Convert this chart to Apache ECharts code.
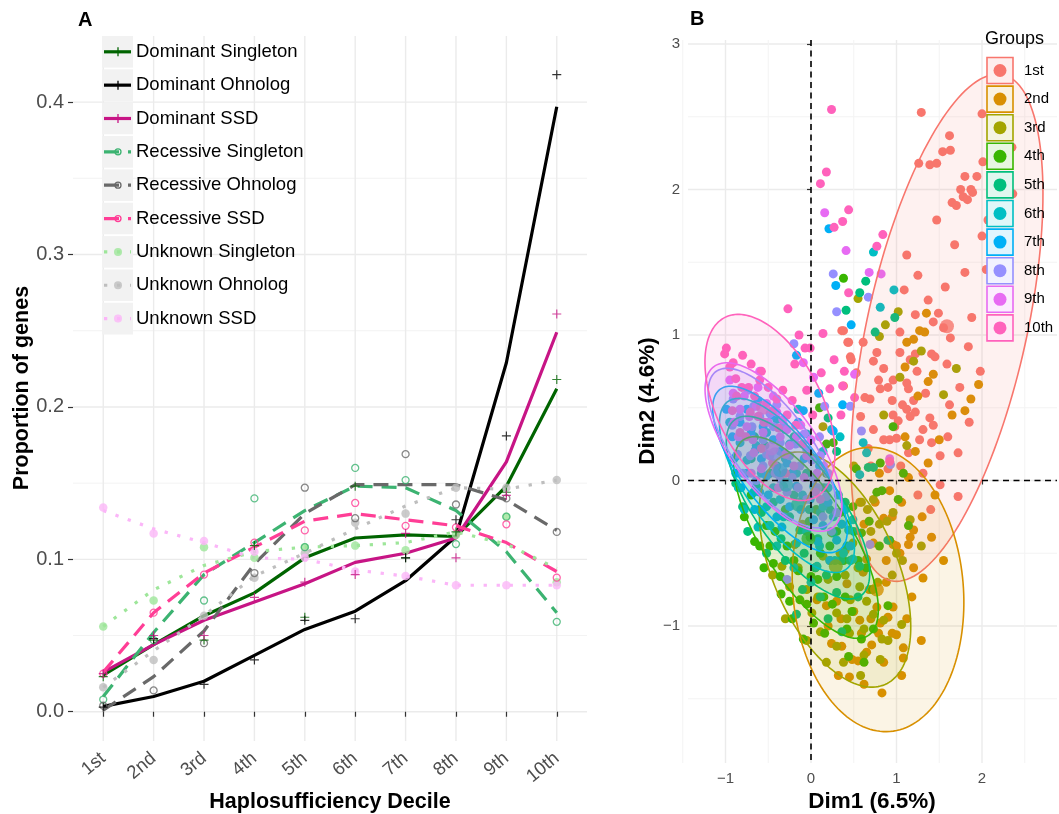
<!DOCTYPE html>
<html>
<head>
<meta charset="utf-8">
<script src="https://cdn.jsdelivr.net/npm/echarts@6/dist/echarts.min.js"></script>
<style>
html,body{margin:0;padding:0;background:#fff;}
#chart{width:1059px;height:814px;}
</style>
</head>
<body>
<div id="chart"></div>
<script>
// ---------- Panel A: proportion of genes per haplosufficiency decile ----------
const deciles = ['1st', '2nd', '3rd', '4th', '5th', '6th', '7th', '8th', '9th', '10th'];
const propTicks = [0, 0.1, 0.2, 0.3, 0.4];
const propMinor = [0.05, 0.15, 0.25, 0.35];

// fitted trend per decile
const domSingletonFit = [0.024, 0.044, 0.063, 0.078, 0.101, 0.114, 0.116, 0.115, 0.148, 0.212];
const domOhnologFit   = [0.0035, 0.010, 0.020, 0.037, 0.054, 0.066, 0.086, 0.115, 0.229, 0.397];
const domSSDFit       = [0.026, 0.044, 0.060, 0.072, 0.084, 0.098, 0.104, 0.114, 0.164, 0.249];
const recSingletonFit = [0.010, 0.052, 0.090, 0.111, 0.132, 0.148, 0.147, 0.132, 0.105, 0.065];
const recOhnologFit   = [0.001, 0.023, 0.053, 0.097, 0.130, 0.149, 0.149, 0.149, 0.139, 0.119];
const recSSDFit       = [0.026, 0.065, 0.091, 0.108, 0.125, 0.130, 0.126, 0.122, 0.111, 0.092];
const unkSingletonFit = [0.056, 0.080, 0.096, 0.105, 0.108, 0.109, 0.111, 0.118, 0.110, 0.094];
const unkOhnologFit   = [0.016, 0.040, 0.063, 0.089, 0.104, 0.120, 0.135, 0.147, 0.146, 0.152];
const unkSSDFit       = [0.132, 0.120, 0.111, 0.101, 0.100, 0.093, 0.089, 0.083, 0.083, 0.083];

// observed proportion per decile
const domSingletonObs = [0.023, 0.047, 0.047, 0.109, 0.062, 0.148, 0.101, 0.118, 0.144, 0.218];
const domOhnologObs   = [0.003, 0.048, 0.018, 0.034, 0.060, 0.061, 0.101, 0.126, 0.181, 0.418];
const domSSDObs       = [0.025, 0.050, 0.050, 0.075, 0.085, 0.090, 0.117, 0.101, 0.142, 0.261];
const recSingletonObs = [0.008, 0.047, 0.073, 0.140, 0.108, 0.160, 0.152, 0.110, 0.128, 0.059];
const recOhnologObs   = [0.004, 0.014, 0.045, 0.091, 0.147, 0.127, 0.169, 0.136, 0.140, 0.118];
const recSSDObs       = [0.025, 0.065, 0.090, 0.111, 0.119, 0.137, 0.122, 0.121, 0.123, 0.088];
const unkSingletonObs = [0.056, 0.073, 0.108, 0.101, 0.108, 0.109, 0.106, 0.116, 0.128, 0.085];
const unkOhnologObs   = [0.016, 0.034, 0.063, 0.088, 0.104, 0.124, 0.130, 0.147, 0.147, 0.152];
const unkSSDObs       = [0.134, 0.117, 0.112, 0.105, 0.101, 0.092, 0.089, 0.083, 0.083, 0.083];

// ---------- Panel B: first two dimensions, grouped by decile ----------
const groupNames = ['1st', '2nd', '3rd', '4th', '5th', '6th', '7th', '8th', '9th', '10th'];
const dimTicks = [-1, 0, 1, 2, 3];
const dimMinor = [-1.5, -0.5, 0.5, 1.5, 2.5];

const g1 = [[1.29,2.53],[2.0,2.52],[1.62,2.37],[2.35,2.29],[1.54,2.26],[1.63,2.27],[1.26,2.18],[1.39,2.17],[1.47,2.18],[2.01,2.19],[1.8,2.09],[1.94,2.09],[1.75,2.0],[1.87,2.0],[1.78,1.95],[1.83,1.93],[1.89,1.98],[2.36,1.97],[1.65,1.91],[1.70,1.89],[2.30,1.87],[2.07,1.79],[2.22,1.79],[1.47,1.79],[2.0,1.68],[1.25,1.41],[1.80,1.43],[1.09,1.31],[1.57,1.33],[1.37,1.24],[1.22,1.14],[1.49,1.15],[1.43,1.09],[1.04,1.02],[1.63,0.98],[1.84,0.92],[0.61,0.95],[0.43,0.95],[0.36,1.03],[2.13,1.20],[0.38,1.03],[0.44,0.95],[0.46,0.85],[0.47,0.83],[0.77,0.88],[0.73,0.82],[0.53,0.74],[0.38,0.65],[0.63,0.57],[0.69,0.56],[0.81,0.63],[0.90,0.64],[0.85,0.77],[0.96,0.69],[1.04,0.88],[1.16,0.83],[1.24,0.75],[1.22,0.87],[1.12,0.67],[1.14,0.63],[1.20,0.55],[0.96,0.45],[1.02,0.41],[0.98,0.37],[1.12,0.49],[1.16,0.44],[1.22,0.47],[1.31,0.35],[1.39,0.43],[1.43,0.38],[1.41,0.26],[1.14,0.19],[0.92,0.28],[1.0,0.29],[0.85,0.28],[0.73,0.35],[0.79,0.69],[1.51,0.17],[1.31,0.05],[1.72,0.19],[1.72,-0.11],[1.51,-0.03],[1.59,0.80],[1.74,0.64],[1.41,0.87],[1.45,0.85],[1.98,0.75],[0.90,0.08],[1.07,0.52],[0.58,0.44],[1.27,0.28],[1.62,0.52],[1.88,1.12],[2.05,1.45],[1.68,1.62],[1.12,1.55],[0.95,0.55],[0.67,0.22],[1.34,0.60],[1.55,1.05],[1.05,0.10],[1.25,-0.10],[1.60,0.30],[1.85,0.40],[0.70,0.10],[1.40,-0.20]];
const g2 = [[1.35,1.15],[1.12,0.95],[1.20,0.97],[1.27,1.03],[1.33,1.02],[1.96,0.66],[1.87,0.56],[1.80,0.48],[1.65,0.45],[1.43,0.73],[1.37,0.68],[1.37,0.12],[1.14,0.02],[0.92,-0.07],[1.06,-0.15],[1.20,-0.34],[1.16,-0.39],[1.14,-0.44],[1.0,-0.45],[1.04,-0.50],[1.41,-0.39],[1.55,-0.55],[1.31,-0.67],[1.29,-1.10],[1.0,-1.06],[0.96,-0.87],[1.08,-1.15],[1.08,-1.22],[1.06,-1.34],[0.83,-1.46],[0.32,-1.34],[0.24,-1.12],[0.36,-1.14],[0.48,-1.23],[0.55,-1.24],[0.65,-1.18],[0.71,-1.13],[0.59,-1.05],[0.77,-0.87],[0.90,-0.94],[0.81,-0.98],[0.79,-1.05],[0.57,-0.96],[0.57,-0.15],[0.75,-0.15],[0.85,-0.26],[0.96,-0.44],[0.30,-0.83],[0.18,-0.86],[0.07,-0.82],[0.42,-0.71],[0.61,-0.63],[0.73,-0.43],[0.65,-0.54],[1.25,0.58],[1.10,0.78],[1.50,0.28],[1.22,0.20],[0.68,-0.75],[0.50,-0.90],[0.88,-0.70],[1.18,-0.80],[0.40,-0.48],[0.95,-0.25],[0.20,-1.00],[0.35,-0.95],[0.45,-1.35],[0.62,-1.40],[0.70,-0.95],[0.85,-1.25],[0.95,-1.05],[1.12,-0.95],[1.20,-0.60],[1.30,-0.25],[0.88,-0.55],[0.62,-0.30],[1.45,-0.10],[1.10,0.30],[0.80,0.05]];
const g3 = [[0.55,1.25],[1.02,1.16],[0.87,1.07],[0.80,0.99],[1.04,0.71],[1.55,0.59],[1.20,0.82],[1.29,0.89],[1.12,0.24],[1.70,0.77],[0.59,-0.15],[0.73,-0.13],[0.89,-0.28],[0.96,-0.22],[1.16,-0.27],[1.29,-0.45],[1.07,-0.55],[1.06,-0.99],[0.83,-1.09],[0.81,-1.23],[0.58,-1.34],[0.30,-1.14],[0.11,-1.04],[0.30,-0.91],[0.73,-0.92],[0.65,-0.83],[0.46,-0.82],[-0.05,-0.75],[-0.25,-0.73],[0.14,-0.52],[0.34,-0.50],[0.49,-0.43],[0.57,-0.73],[0.85,-0.96],[0.01,-0.91],[-0.19,-0.44],[-0.34,-0.59],[0.24,-0.36],[0.14,0.37],[0.40,-0.65],[0.20,-0.68],[0.62,-1.02],[0.45,-1.05],[0.95,-0.65],[0.05,-0.60],[0.70,-0.35],[0.36,-0.30],[-0.10,-0.30],[0.50,0.10],[0.85,0.45],[-0.45,-0.65],[-0.30,-0.95],[-0.15,-0.60],[-0.05,-1.10],[0.08,-0.80],[0.18,-1.25],[0.22,-0.55],[0.38,-1.25],[0.42,-0.95],[0.55,-0.60],[0.62,-1.20],[0.78,-0.70],[0.90,-1.10],[1.00,-0.50],[0.66,-0.20],[0.80,-0.30]];
const g4 = [[0.38,1.39],[0.18,0.25],[0.26,0.26],[1.08,0.05],[0.96,0.37],[0.77,-0.08],[0.83,-0.07],[1.02,-0.13],[1.14,-0.31],[0.92,-0.41],[0.34,-0.22],[0.49,-0.18],[0.59,-0.36],[-0.01,-0.39],[0.11,-0.50],[0.30,-0.66],[0.0,-0.66],[-0.13,-0.82],[-0.25,-0.83],[-0.36,-0.66],[-0.48,-0.45],[-0.52,-0.31],[0.03,-0.98],[0.44,-1.21],[0.59,-1.09],[-0.09,-1.09],[0.90,-0.86],[0.73,-1.02],[0.42,-1.02],[-0.60,-0.45],[-0.44,-0.57],[0.18,0.05],[0.81,0.12],[0.53,0.08],[-0.30,-0.20],[0.06,-0.20],[0.22,-0.45],[0.40,-0.80],[-0.20,-0.55],[0.65,-0.60],[0.15,-0.80],[-0.70,-0.10],[0.10,0.50],[-0.40,0.05],[-0.78,-0.25],[-0.66,-0.42],[-0.60,-0.20],[-0.55,-0.60],[-0.42,-0.35],[-0.35,-0.78],[-0.28,-0.45],[-0.22,-0.95],[-0.15,-0.62],[-0.05,-0.85],[-0.02,-0.28],[0.08,-0.68],[0.16,-1.05],[0.25,-0.85],[0.30,-0.35],[0.38,-0.55],[0.48,-0.90],[0.55,-0.55],[0.62,-1.25],[0.72,-0.75],[0.80,-0.45],[0.68,-0.28]];
const g5 = [[0.64,1.37],[0.57,1.29],[0.41,1.17],[0.98,1.12],[0.75,1.02],[0.20,0.43],[0.73,0.09],[0.67,0.09],[0.90,-0.41],[0.46,-0.55],[-0.32,-0.04],[-0.48,0.05],[-0.25,-0.25],[-0.13,-0.34],[0.11,-0.22],[0.26,-0.36],[0.42,-0.45],[0.57,-0.59],[0.11,-0.80],[-0.17,-0.92],[0.36,-1.04],[0.30,-0.77],[-0.64,-0.04],[-0.54,0.24],[-0.40,0.10],[-0.05,0.05],[0.15,-0.05],[-0.35,-0.40],[0.05,-0.60],[-0.70,0.15],[0.30,0.20],[-0.20,0.30],[-0.88,-0.02],[-0.80,-0.18],[-0.74,-0.35],[-0.66,0.30],[-0.58,-0.22],[-0.52,-0.50],[-0.44,-0.15],[-0.30,-0.55],[-0.20,-0.10],[-0.08,-0.50],[-0.02,-0.20],[0.08,-0.40],[0.18,-0.65],[0.22,-0.20],[0.35,-0.55],[0.40,-0.15],[0.50,-0.35],[0.55,-0.80],[-0.10,-0.75],[0.20,-0.95]];
const g6 = [[0.73,1.57],[0.97,1.31],[0.81,1.19],[0.61,0.26],[0.65,0.19],[0.24,0.35],[0.34,0.30],[0.57,0.04],[-0.36,-0.13],[-0.52,-0.18],[-0.17,0.05],[0.03,-0.04],[0.14,-0.18],[0.26,-0.25],[0.49,-0.27],[0.44,-0.34],[0.38,-0.50],[0.49,-0.54],[0.07,-0.59],[-0.17,-0.43],[-0.48,-0.31],[-0.67,-0.08],[-0.75,0.14],[-0.64,0.24],[-0.83,0.26],[-0.52,0.33],[0.14,0.20],[-0.40,0.42],[-0.15,0.49],[-0.95,0.40],[-0.05,0.32],[-0.30,0.15],[-0.90,0.15],[-0.85,-0.05],[-0.78,-0.20],[-0.70,0.35],[-0.62,-0.32],[-0.58,0.05],[-0.44,-0.05],[-0.40,-0.45],[-0.32,-0.25],[-0.25,0.25],[-0.10,-0.10],[-0.05,-0.35],[0.05,0.15],[0.10,-0.45],[0.20,-0.05],[0.28,-0.55],[0.32,-0.10],[0.40,-0.20],[-0.20,-0.60],[0.00,-0.70]];
const g7 = [[0.21,1.73],[0.29,1.34],[0.47,1.07],[-0.17,0.86],[0.09,0.60],[0.37,0.52],[-0.09,0.48],[0.26,0.34],[-0.83,0.40],[-0.75,0.49],[-0.65,0.21],[-0.52,0.03],[-0.28,0.12],[-0.17,-0.04],[-0.01,-0.13],[0.14,-0.31],[0.30,-0.41],[0.46,-0.45],[0.03,-0.27],[-0.25,-0.18],[-0.60,-0.08],[-0.75,0.05],[-0.87,0.17],[-0.56,0.37],[-0.44,0.28],[-0.99,0.49],[-0.30,0.35],[0.10,0.10],[-0.40,-0.25],[-0.92,0.30],[-0.88,0.05],[-0.82,-0.05],[-0.70,0.32],[-0.66,-0.20],[-0.58,0.15],[-0.50,-0.10],[-0.46,0.45],[-0.36,0.20],[-0.34,-0.32],[-0.22,0.05],[-0.12,-0.20],[-0.08,0.15],[0.04,-0.05],[0.08,-0.42],[0.20,-0.15],[0.22,-0.55],[0.36,-0.30],[-0.62,0.55],[-0.15,0.40]];
const g8 = [[0.26,1.42],[0.67,1.26],[0.30,1.16],[-0.20,0.94],[0.46,0.51],[0.16,0.51],[0.59,0.34],[0.93,0.11],[0.69,-0.44],[-0.91,0.56],[-0.83,0.44],[-0.79,0.30],[-0.69,0.37],[-0.56,0.28],[-0.44,0.37],[-0.36,0.26],[-0.25,0.17],[-0.13,0.10],[0.01,0.14],[0.11,0.17],[0.03,0.01],[0.18,-0.11],[0.30,-0.22],[0.14,-0.25],[-0.05,-0.13],[-0.36,0.01],[-0.56,0.10],[-0.71,0.17],[-0.28,-0.68],[-0.67,0.51],[-0.05,0.21],[-0.92,0.38],[-0.86,0.18],[-0.80,0.05],[-0.74,0.62],[-0.64,0.00],[-0.60,0.44],[-0.52,0.18],[-0.48,0.46],[-0.42,0.05],[-0.32,0.38],[-0.28,-0.08],[-0.18,0.25],[-0.15,-0.05],[-0.08,0.32],[0.08,-0.05],[0.20,0.05],[0.24,-0.35],[-0.40,0.52],[-0.22,0.02],[0.10,0.30]];
const g9 = [[0.16,1.84],[0.41,1.58],[0.68,1.43],[0.82,1.42],[0.51,0.73],[-0.09,0.81],[0.03,0.71],[0.92,0.15],[-0.95,0.69],[-0.91,0.60],[-0.60,0.75],[-0.64,0.51],[-0.52,0.53],[-0.40,0.47],[-0.28,0.35],[-0.36,0.30],[-0.17,0.30],[-0.25,0.24],[-0.05,0.17],[0.07,0.05],[-0.56,0.33],[-0.75,0.37],[-0.83,0.49],[-0.48,0.17],[-0.67,0.19],[0.11,-0.13],[-0.90,0.40],[-0.85,0.30],[-0.78,0.58],[-0.72,0.44],[-0.68,0.28],[-0.62,0.64],[-0.58,0.08],[-0.50,0.40],[-0.44,0.58],[-0.42,0.10],[-0.33,0.42],[-0.30,0.18],[-0.20,0.10],[-0.12,0.38],[-0.08,0.02],[0.00,0.28],[0.05,-0.08],[0.15,0.10],[-0.70,0.05],[-0.38,-0.05]];
const g10 = [[0.24,2.55],[0.18,2.12],[0.11,2.04],[0.44,1.86],[0.37,1.78],[0.27,1.74],[0.84,1.69],[0.77,1.61],[0.44,1.29],[-0.27,1.18],[-0.14,1.0],[0.14,1.01],[-0.07,0.91],[-0.01,0.91],[-0.19,0.80],[0.12,0.74],[0.27,0.83],[0.39,0.75],[0.22,0.63],[0.37,0.65],[0.51,0.57],[0.35,0.45],[-0.99,0.91],[-1.01,0.87],[-0.91,0.81],[-0.58,0.75],[-0.81,0.64],[-0.73,0.64],[-0.60,0.69],[-0.50,0.64],[-0.87,0.58],[-0.40,0.56],[-0.28,0.45],[-0.71,0.47],[-0.83,0.33],[0.92,0.13],[-0.95,0.78],[-0.88,0.70],[-0.80,0.86],[-0.70,0.80],[-0.66,0.58],[-0.62,0.44],[-0.55,0.40],[-0.45,0.48],[-0.38,0.36],[-0.33,0.62],[-0.22,0.55],[-0.18,0.38],[-0.10,0.25],[-0.05,0.62],[0.02,0.45],[-0.92,0.48],[-0.76,0.30],[-0.58,0.22],[-0.45,0.12],[-0.30,0.05]];
const groupPoints = [g1, g2, g3, g4, g5, g6, g7, g8, g9, g10];

// group means
const groupMeans = [[1.59,1.06],[0.77,-0.75],[0.29,-0.59],[-0.03,-0.40],[-0.15,-0.165],[-0.29,-0.03],[-0.36,0.07],[-0.42,0.18],[-0.46,0.22],[-0.56,0.50]];
// concentration ellipses: centre and two conjugate half-axes (Dim1, Dim2 units)
const ellipseCentre = [[1.59,1.05],[0.784,-0.749],[0.281,-0.612],[-0.058,-0.392],[-0.152,-0.186],[-0.281,-0.034],[-0.363,0.076],[-0.456,0.223],[-0.439,0.230],[-0.480,0.502]];
const ellipseAxisA  = [[0.655,1.739],[-0.140,0.976],[-0.585,0.790],[-0.725,0.674],[-0.737,0.605],[-0.690,0.577],[-0.702,0.550],[-0.655,0.526],[-0.696,0.553],[-0.526,0.619]];
const ellipseAxisB  = [[0.912,-0.119],[0.994,0.048],[0.665,0.170],[0.435,0.162],[0.400,0.168],[0.384,0.158],[0.356,0.157],[0.359,0.155],[0.395,0.172],[0.549,0.161]];

// ---------- styling ----------
const FONT = "'Liberation Sans', Arial, Helvetica, sans-serif";
const groupColors = ['#F8766D','#D89000','#A3A500','#39B600','#00BF7D','#00BFC4','#00B0F6','#9590FF','#E76BF3','#FF62BC'];
const DOTTED = [3.3, 9.7];
const DASHED = [15, 9];
const PLUS = 'path://M4.35,0h1.3v4.35h4.35v1.3h-4.35v4.35h-1.3v-4.35h-4.35v-1.3h4.35z';

const panelA = [
  { name: 'Dominant Singleton', fit: domSingletonFit, obs: domSingletonObs, color: '#006400', dash: null, mark: 'plus' },
  { name: 'Dominant Ohnolog', fit: domOhnologFit, obs: domOhnologObs, color: '#000000', dash: null, mark: 'plus' },
  { name: 'Dominant SSD', fit: domSSDFit, obs: domSSDObs, color: '#C71585', dash: null, mark: 'plus' },
  { name: 'Recessive Singleton', fit: recSingletonFit, obs: recSingletonObs, color: '#3CB371', dash: DASHED, mark: 'ring' },
  { name: 'Recessive Ohnolog', fit: recOhnologFit, obs: recOhnologObs, color: '#696969', dash: DASHED, mark: 'ring' },
  { name: 'Recessive SSD', fit: recSSDFit, obs: recSSDObs, color: '#FF3E96', dash: DASHED, mark: 'ring' },
  { name: 'Unknown Singleton', fit: unkSingletonFit, obs: unkSingletonObs, color: '#9EE69A', dash: DOTTED, mark: 'dot' },
  { name: 'Unknown Ohnolog', fit: unkOhnologFit, obs: unkOhnologObs, color: '#BEBEBE', dash: DOTTED, mark: 'dot' },
  { name: 'Unknown SSD', fit: unkSSDFit, obs: unkSSDObs, color: '#FBB6F8', dash: DOTTED, mark: 'dot' }
];

function hexA(hex, a) {
  const n = parseInt(hex.slice(1), 16);
  return 'rgba(' + ((n >> 16) & 255) + ',' + ((n >> 8) & 255) + ',' + (n & 255) + ',' + a + ')';
}

// axis extents
const aX = { min: 0.4, max: 10.6 };
const aY = { min: -0.0192, max: 0.4434 };
const bX = { min: -1.4386, max: 2.877 };
const bY = { min: -1.9416, max: 3.0275 };

function gridLines(idx, values, dir, ref, color, width, dash, z) {
  return {
    type: 'custom', xAxisIndex: idx, yAxisIndex: idx, silent: true, z: z, clip: false,
    data: values.map(v => dir === 'h' ? [ref, v] : [v, ref]),
    encode: { x: 0, y: 1 },
    renderItem: function (params, api) {
      const cs = params.coordSys;
      const p = api.coord([api.value(0), api.value(1)]);
      const shape = dir === 'h'
        ? { x1: cs.x, y1: p[1], x2: cs.x + cs.width, y2: p[1] }
        : { x1: p[0], y1: cs.y, x2: p[0], y2: cs.y + cs.height };
      return { type: 'line', shape: shape, style: { stroke: color, lineWidth: width, lineDash: dash || null } };
    }
  };
}

const series = [];
// panel A grid
series.push(gridLines(0, propMinor, 'h', aX.min, '#f3f3f3', 1, null, 0));
series.push(gridLines(0, propTicks, 'h', aX.min, '#ebebeb', 1.4, null, 0));
series.push(gridLines(0, deciles.map((d, i) => i + 1), 'v', aY.min, '#ebebeb', 1.4, null, 0));

// panel A lines and observations (unknown underneath, dominant on top)
const drawOrder = [6, 7, 8, 3, 4, 5, 0, 1, 2];
drawOrder.forEach(k => {
  const s = panelA[k];
  series.push({
    name: s.name, type: 'line', xAxisIndex: 0, yAxisIndex: 0, z: 2 + k * 0.01,
    data: s.fit.map((v, i) => [i + 1, v]),
    symbol: 'none', smooth: false,
    lineStyle: { color: s.color, width: 3.2, type: s.dash || 'solid', cap: 'butt' }
  });
  let sym, size, style;
  if (s.mark === 'plus') { sym = PLUS; size = 9; style = { color: s.color }; }
  else if (s.mark === 'ring') { sym = 'circle'; size = 7; style = { color: 'rgba(0,0,0,0)', borderColor: s.color, borderWidth: 1.3 }; }
  else { sym = 'circle'; size = 8.5; style = { color: s.color, opacity: 0.8 }; }
  series.push({
    name: s.name + ' obs', type: 'scatter', xAxisIndex: 0, yAxisIndex: 0, z: 3,
    data: s.obs.map((v, i) => [i + 1, v]),
    symbol: sym, symbolSize: size, itemStyle: style
  });
});

// panel B grid
series.push(gridLines(1, dimMinor, 'h', bX.min, '#f3f3f3', 1, null, 0));
series.push(gridLines(1, dimTicks, 'h', bX.min, '#ebebeb', 1.4, null, 0));
series.push(gridLines(1, dimMinor, 'v', bY.min, '#f3f3f3', 1, null, 0));
series.push(gridLines(1, dimTicks.filter(v => v <= 2), 'v', bY.min, '#ebebeb', 1.4, null, 0));

groupPoints.forEach((pts, i) => {
  series.push({
    name: groupNames[i], type: 'scatter', xAxisIndex: 1, yAxisIndex: 1, z: 2,
    data: pts, symbol: 'circle', symbolSize: 9,
    itemStyle: { color: groupColors[i], opacity: 1 }
  });
});
series.push({
  name: 'means', type: 'scatter', xAxisIndex: 1, yAxisIndex: 1, z: 2,
  data: groupMeans.map((p, i) => ({ value: p, itemStyle: { color: groupColors[i] } })),
  symbol: 'circle', symbolSize: 14
});
series.push({
  name: 'ellipses', type: 'custom', xAxisIndex: 1, yAxisIndex: 1, z: 3, silent: true,
  data: ellipseCentre.map((c, i) => [c[0], c[1], i]),
  encode: { x: 0, y: 1 },
  renderItem: function (params, api) {
    const i = api.value(2);
    const c = ellipseCentre[i], a = ellipseAxisA[i], b = ellipseAxisB[i];
    const pts = [];
    for (let k = 0; k < 160; k++) {
      const t = k / 160 * Math.PI * 2;
      pts.push(api.coord([c[0] + a[0] * Math.cos(t) + b[0] * Math.sin(t),
                          c[1] + a[1] * Math.cos(t) + b[1] * Math.sin(t)]));
    }
    return { type: 'polygon', shape: { points: pts },
             style: { fill: hexA(groupColors[i], 0.1), stroke: groupColors[i], lineWidth: 1.6 } };
  }
});
series.push(gridLines(1, [0], 'h', bX.min, '#000', 1.6, [6, 4.5], 5));
series.push(gridLines(1, [0], 'v', bY.min, '#000', 1.6, [6, 4.5], 5));

// ---------- legends and titles ----------
const graphic = [];
graphic.push({ type: 'text', left: 78, top: 10, style: { text: 'A', font: 'bold 20px ' + FONT, fill: '#000' } });
graphic.push({ type: 'text', left: 690, top: 9, style: { text: 'B', font: 'bold 20px ' + FONT, fill: '#000' } });
graphic.push({ type: 'text', x: 330, y: 802, style: { text: 'Haplosufficiency Decile', font: 'bold 21.5px ' + FONT, fill: '#000', textAlign: 'center', textVerticalAlign: 'middle' } });
graphic.push({ type: 'text', x: 22, y: 388, rotation: Math.PI / 2, style: { text: 'Proportion of genes', font: 'bold 21.5px ' + FONT, fill: '#000', textAlign: 'center', textVerticalAlign: 'middle' } });
graphic.push({ type: 'text', x: 872, y: 802, style: { text: 'Dim1 (6.5%)', font: 'bold 22.5px ' + FONT, fill: '#000', textAlign: 'center', textVerticalAlign: 'middle' } });
graphic.push({ type: 'text', x: 648, y: 401, rotation: Math.PI / 2, style: { text: 'Dim2 (4.6%)', font: 'bold 22.5px ' + FONT, fill: '#000', textAlign: 'center', textVerticalAlign: 'middle' } });

// panel A legend
panelA.forEach((s, i) => {
  const y0 = 36 + i * 33.35, yc = y0 + 15.8;
  graphic.push({ type: 'rect', shape: { x: 102, y: y0, width: 31, height: 31.6 }, style: { fill: '#f2f2f2' }, z: 10 });
  graphic.push({ type: 'line', shape: { x1: 104, y1: yc, x2: 131, y2: yc }, style: { stroke: s.color, lineWidth: 3.2, lineDash: s.dash || null }, z: 11 });
  if (s.mark === 'plus') {
    graphic.push({ type: 'line', shape: { x1: 118, y1: yc - 4.5, x2: 118, y2: yc + 4.5 }, style: { stroke: s.color, lineWidth: 1.3 }, z: 12 });
    graphic.push({ type: 'line', shape: { x1: 113.5, y1: yc, x2: 122.5, y2: yc }, style: { stroke: s.color, lineWidth: 1.3 }, z: 12 });
  } else if (s.mark === 'ring') {
    graphic.push({ type: 'circle', shape: { cx: 118, cy: yc, r: 3 }, style: { fill: 'none', stroke: s.color, lineWidth: 1.3 }, z: 12 });
  } else {
    graphic.push({ type: 'circle', shape: { cx: 118, cy: yc, r: 4 }, style: { fill: s.color, opacity: 0.8 }, z: 12 });
  }
  graphic.push({ type: 'text', x: 136, y: yc, style: { text: s.name, font: '18.5px ' + FONT, fill: '#000', textVerticalAlign: 'middle' }, z: 12 });
});

// panel B legend
graphic.push({ type: 'text', x: 985, y: 39, style: { text: 'Groups', font: '18px ' + FONT, fill: '#000', textVerticalAlign: 'middle' }, z: 10 });
groupNames.forEach((g, i) => {
  const y0 = 57.5 + i * 28.6;
  graphic.push({ type: 'rect', shape: { x: 987, y: y0, width: 26, height: 26 }, style: { fill: '#fff' }, z: 10 });
  graphic.push({ type: 'rect', shape: { x: 987, y: y0, width: 26, height: 26 }, style: { fill: hexA(groupColors[i], 0.12), stroke: groupColors[i], lineWidth: 1.6 }, z: 11 });
  graphic.push({ type: 'circle', shape: { cx: 1000, cy: y0 + 13, r: 6.5 }, style: { fill: groupColors[i] }, z: 12 });
  graphic.push({ type: 'text', x: 1024, y: y0 + 13, style: { text: g, font: '15px ' + FONT, fill: '#000', textVerticalAlign: 'middle' }, z: 12 });
});

const minusFmt = v => (v < 0 ? '\u2212' + Math.abs(v) : String(v));

const option = {
  animation: false,
  backgroundColor: '#fff',
  grid: [
    { left: 73, top: 36, width: 514, height: 705 },
    { left: 688, top: 40, width: 369, height: 723 }
  ],
  xAxis: [
    {
      type: 'value', gridIndex: 0, min: aX.min, max: aX.max,
      axisLine: { show: false }, splitLine: { show: false },
      axisTick: { show: true, length: 5, lineStyle: { color: '#333', width: 1.2 }, customValues: deciles.map((d, i) => i + 1) },
      axisLabel: { customValues: deciles.map((d, i) => i + 1), formatter: v => deciles[Math.round(v) - 1] || '',
                   rotate: 40, margin: 15, fontSize: 18.5, color: '#4d4d4d', fontFamily: FONT }
    },
    {
      type: 'value', gridIndex: 1, min: bX.min, max: bX.max,
      axisLine: { show: false }, splitLine: { show: false },
      axisTick: { show: true, length: 4, lineStyle: { color: '#333', width: 1.2 }, customValues: [-1, 0, 1, 2] },
      axisLabel: { customValues: [-1, 0, 1, 2], formatter: minusFmt, margin: 8, fontSize: 15, color: '#4d4d4d', fontFamily: FONT }
    }
  ],
  yAxis: [
    {
      type: 'value', gridIndex: 0, min: aY.min, max: aY.max,
      axisLine: { show: false }, splitLine: { show: false },
      axisTick: { show: true, length: 5, lineStyle: { color: '#333', width: 1.2 }, customValues: propTicks },
      axisLabel: { customValues: propTicks, formatter: v => v.toFixed(1), margin: 9, fontSize: 20, color: '#4d4d4d', fontFamily: FONT }
    },
    {
      type: 'value', gridIndex: 1, min: bY.min, max: bY.max,
      axisLine: { show: false }, splitLine: { show: false },
      axisTick: { show: true, length: 4, lineStyle: { color: '#333', width: 1.2 }, customValues: dimTicks },
      axisLabel: { customValues: dimTicks, formatter: minusFmt, margin: 8, fontSize: 15, color: '#4d4d4d', fontFamily: FONT }
    }
  ],
  series: series,
  graphic: graphic
};

const chart = echarts.init(document.getElementById('chart'), null, { renderer: 'canvas' });
chart.setOption(option);
</script>
</body>
</html>
